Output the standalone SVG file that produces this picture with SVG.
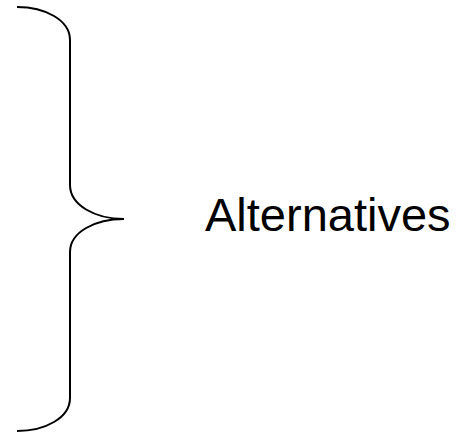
<svg xmlns="http://www.w3.org/2000/svg" width="459" height="432" viewBox="0 0 459 432">
<style>
.brace{fill:none;stroke:#000;stroke-width:2}
.lbl{font-family:"Liberation Sans",Arial,sans-serif;font-size:47px;fill:#000}
</style>
<rect width="459" height="432" fill="#fff"/>
<g id="connectors">
<path class="brace" d="M17,7 C45,7 70,20 70,40 L70,185 C70,205 95,219 124,219 C95,219 70,232 70,252 L70,398 C70,418 45,431 17,431"/>
</g>
<g id="label">
<text class="lbl" x="205" y="231">Alternatives</text>
</g>
</svg>
